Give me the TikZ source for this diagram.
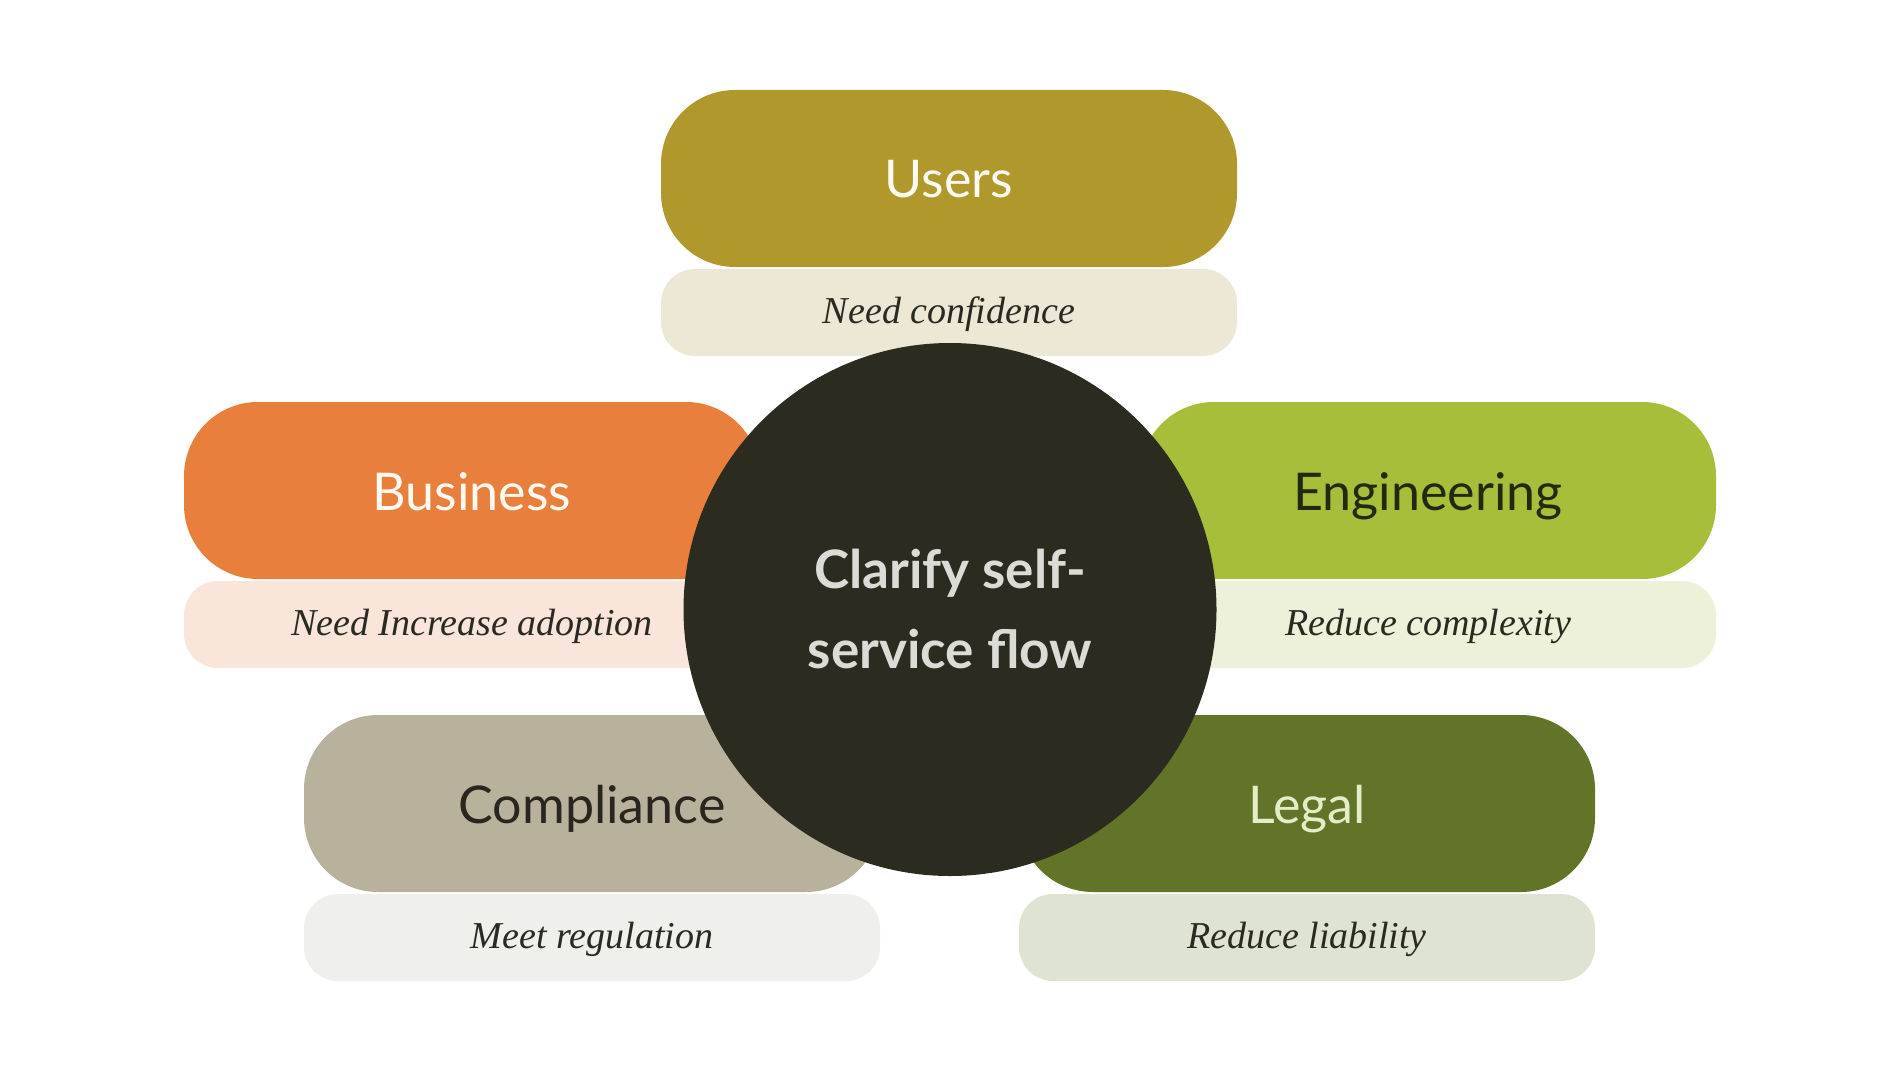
\documentclass[tikz,border=0pt]{standalone}
\usepackage{fontspec}
\setmainfont{Liberation Serif}
\newfontfamily\headfont{Lato}
\definecolor{usersC}{HTML}{B0982C}
\definecolor{usersS}{HTML}{EDE8D5}
\definecolor{busC}{HTML}{E87F3C}
\definecolor{busS}{HTML}{F9E5DA}
\definecolor{engC}{HTML}{A6BE3A}
\definecolor{engS}{HTML}{EEF1DA}
\definecolor{compC}{HTML}{B8B29D}
\definecolor{compS}{HTML}{EFEFEB}
\definecolor{legC}{HTML}{617428}
\definecolor{legS}{HTML}{DFE3D1}
\definecolor{hubC}{HTML}{2B2B20}
\definecolor{hubT}{HTML}{DCDCD6}
\definecolor{txtdark}{HTML}{2A2A22}
\definecolor{engT}{HTML}{1F2A0F}
\definecolor{compT}{HTML}{2A251E}
\definecolor{legT}{HTML}{E4EDC8}
\definecolor{lightT}{HTML}{FFFBF2}
\begin{document}
\begin{tikzpicture}[x=0.5pt,y=-0.5pt,
  mainbox/.style={rounded corners=37pt, minimum width=288pt, minimum height=88.5pt,
    inner sep=0pt, text height=21pt, text depth=1.5pt,
    font=\headfont\fontsize{26}{30}\selectfont},
  subbox/.style={rounded corners=17pt, minimum width=288pt, minimum height=43.5pt,
    inner sep=0pt, text height=14pt, text depth=3pt,
    font=\itshape\fontsize{19}{23}\selectfont, text=txtdark},
  hub/.style={circle, fill=hubC, minimum size=266.5pt, inner sep=0pt, align=center,
    text=hubT, font=\headfont\bfseries\fontsize{26.5}{40}\selectfont}]
\useasboundingbox (0,0) rectangle (1900,1070);
\fill[white] (0,0) rectangle (1900,1070);
% sub boxes
\node[subbox, fill=usersS] (usersSub) at (949,312.5) {Need confidence};
\node[subbox, fill=busS] (busSub) at (472,624.5) {Need Increase adoption};
\node[subbox, fill=engS] (engSub) at (1428,624.5) {Reduce complexity};
\node[subbox, fill=compS] (compSub) at (592,937.5) {Meet regulation};
\node[subbox, fill=legS] (legSub) at (1307,937.5) {Reduce liability};
% main boxes
\node[mainbox, fill=usersC, text=lightT] (users) at (949,178.5) {Users};
\node[mainbox, fill=busC, text=lightT] (bus) at (472,490.5) {Business};
\node[mainbox, fill=engC, text=engT] (eng) at (1428,490.5) {Engineering};
\node[mainbox, fill=compC, text=compT] (comp) at (592,803.5) {Compliance};
\node[mainbox, fill=legC, text=legT] (leg) at (1307,803.5) {Legal};
% hub
\node[hub] (center) at (950,609.5) {\raisebox{-1.2pt}{Clarify self-}\\\raisebox{-1.2pt}{service flow}};
\end{tikzpicture}
\end{document}
